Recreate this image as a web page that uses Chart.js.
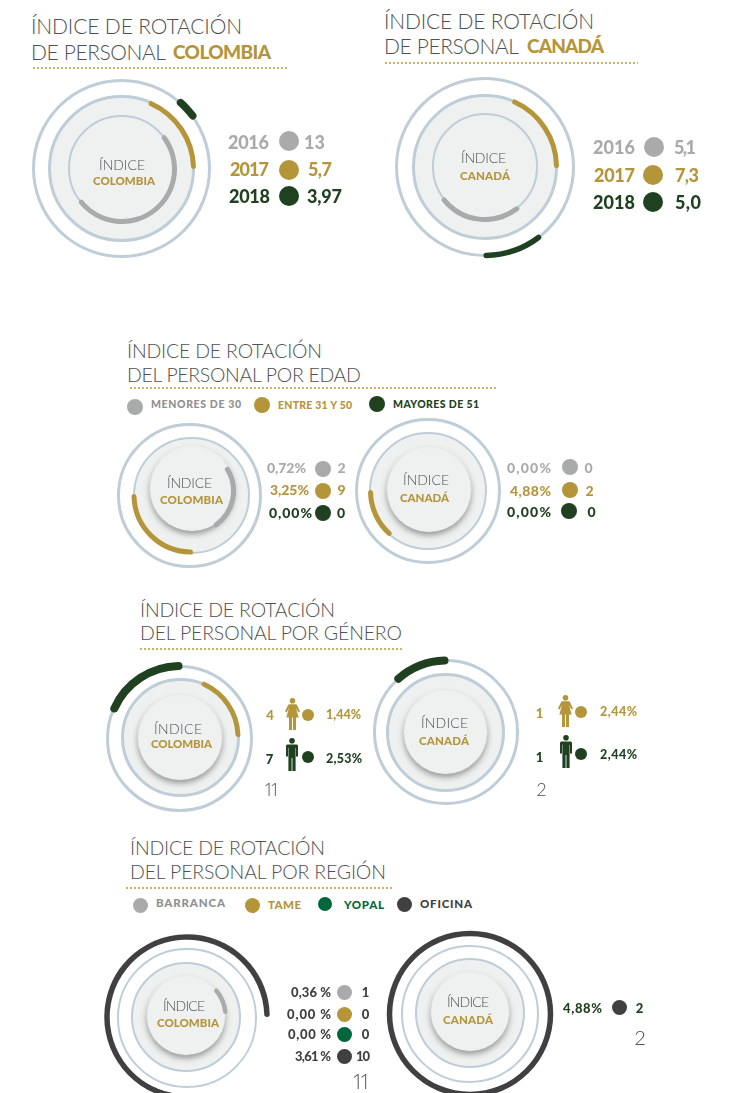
<!DOCTYPE html>
<html lang="es">
<head>
<meta charset="utf-8">
<title>Índice de rotación de personal</title>
<script src="https://cdn.jsdelivr.net/npm/chart.js@4"></script>
<style>
  html,body{margin:0;padding:0;background:#fff;}
  #page{position:relative;width:741px;height:1093px;overflow:hidden;background:#fff;font-family:Lato,"Noto Sans",sans-serif;filter:blur(.35px);}
  #page>*{position:absolute;}
  .t{white-space:pre;line-height:1;transform:translateY(-50%);}
  .dots{height:2px;background:repeating-linear-gradient(90deg,#cfb264 0 2px,transparent 2px 4px);}
  .dot,.ring,.disc{border-radius:50%;box-sizing:border-box;}
  canvas{pointer-events:none;}
</style>
</head>
<body>
<div id="page"></div>
<script>
/* ---------- data ---------- */
const indiceTitle = 'ÍNDICE DE ROTACIÓN';
const yearLabels = ['2016','2017','2018'];
const colombiaByYear = ['13','5,7','3,97'];
const canadaByYear = ['5,1','7,3','5,0'];
const colombiaYearArc = [183,68,16.5];
const canadaYearArc = [94,68.5,40];

const ageLabels = ['MENORES DE 30','ENTRE 31 Y 50','MAYORES DE 51'];
const colombiaAgePct = ['0,72%','3,25%','0,00%'];
const colombiaAgeCount = ['2','9','0'];
const canadaAgePct = ['0,00%','4,88%','0,00%'];
const canadaAgeCount = ['0','2','0'];
const colombiaAgeArc = [93,93];
const canadaAgeArc = [51];

const colombiaGenderCount = ['4','7'];
const colombiaGenderPct = ['1,44%','2,53%'];
const canadaGenderCount = ['1','1'];
const canadaGenderPct = ['2,44%','2,44%'];
const colombiaGenderTotal = '11';
const canadaGenderTotal = '2';
const colombiaGenderArc = [68,71];
const canadaGenderArc = [47];

const regionLabels = ['BARRANCA','TAME','YOPAL','OFICINA'];
const colombiaRegionPct = ['0,36 %','0,00 %','0,00 %','3,61 %'];
const colombiaRegionCount = ['1','0','0','10'];
const colombiaRegionTotal = '11';
const canadaRegionPct = ['4,88%'];
const canadaRegionCount = ['2'];
const canadaRegionTotal = '2';
const colombiaRegionArc = [40,260];
const canadaRegionArc = [360];

/* ---------- styling ---------- */
const GRAY='#a9aaac', GOLD='#b49539', GREEN='#1f4120', YOPAL='#00663c', DARK='#404042', TITLE='#4f5052', BLUE='#bfcdd8', FILL='#eff1f1';
const page=document.getElementById('page');
function el(cls,css){const d=document.createElement('div');d.className=cls;Object.assign(d.style,css);page.appendChild(d);return d;}

/* text fitted between x1 and x2, centred vertically on y */
const meas=document.createElement('canvas').getContext('2d');
function text(str,x1,x2,y,size,color,weight,family){
  const fam=family||'Lato';
  const d=el('t',{left:x1+'px',top:y+'px',fontSize:size+'px',color:color,fontWeight:weight||700,fontFamily:fam});
  d.textContent=str;
  meas.font=(weight||700)+' '+size+'px "'+fam+'"';
  const w=meas.measureText(str).width;
  if(str.length>1) d.style.letterSpacing=((x2-x1-w)/(str.length-1)).toFixed(3)+'px';
  else d.style.left=((x1+x2)/2-w/2)+'px';
  return d;
}
function dot(cx,cy,r,color){el('dot',{left:(cx-r)+'px',top:(cy-r)+'px',width:2*r+'px',height:2*r+'px',background:color});}
function dotted(x1,x2,y){el('dots',{left:x1+'px',top:y+'px',width:(x2-x1)+'px'});}
function title(l1,x1,x2,y1,l2,x3,x4,y2,size,strong,x5,x6){
  text(l1,x1,x2,y1,size,TITLE,300);
  text(l2,x3,x4,y2,size,TITLE,300);
  if(strong) text(strong,x5,x6,y2,19,GOLD,900);
}
function ring(cx,cy,r,w,fill){
  const o=r+w/2;
  el('ring',{left:(cx-o)+'px',top:(cy-o)+'px',width:2*o+'px',height:2*o+'px',border:w+'px solid '+BLUE,background:fill||'transparent'});
}
function disc(cx,cy,r,shadow){
  el('disc',{left:(cx-r)+'px',top:(cy-r)+'px',width:2*r+'px',height:2*r+'px',background:FILL,
    boxShadow:shadow?'0 3px 6px rgba(60,60,60,.55), 0 0 0 1px #fff':'none'});
}
/* one library-drawn arc: sweep degrees starting at `start` degrees clockwise from the top */
function arc(label,cx,cy,r,w,start,sweep,color){
  const o=Math.ceil(r+w/2);
  const scale=(r+w/2)/o;
  const c=document.createElement('canvas');
  c.width=2*o;c.height=2*o;
  Object.assign(c.style,{left:(cx-o)+'px',top:(cy-o)+'px',width:2*o+'px',height:2*o+'px'});
  page.appendChild(c);
  const data=sweep>=360?[360]:[sweep,360-sweep];
  new Chart(c,{type:'doughnut',
    data:{labels:sweep>=360?[label]:[label,''],datasets:[{data:data,backgroundColor:[color,'rgba(0,0,0,0)'],borderWidth:0,borderRadius:sweep>=360?0:w,hoverOffset:0}]},
    options:{responsive:false,animation:false,devicePixelRatio:1,rotation:start,radius:(scale*100)+'%',cutout:((r-w/2)/(r+w/2)*100)+'%',
      layout:{padding:0},events:[],plugins:{legend:{display:false},tooltip:{enabled:false}}}});
}
function center(l1,a,b,y1,l2,c2,d2,y2){
  text(l1,a,b,y1,14,TITLE,300);
  text(l2,c2,d2,y2,11.5,GOLD,900);
}
function woman(x,y,color){
  const s=document.createElementNS('http://www.w3.org/2000/svg','svg');
  s.setAttribute('viewBox','0 0 15 32');s.setAttribute('width','15');s.setAttribute('height','32');
  s.style.cssText='left:'+x+'px;top:'+y+'px';
  s.innerHTML='<g fill="'+color+'"><circle cx="7.5" cy="2.8" r="2.8"/><path d="M4.2 6.2h6.6l1 .6L15 13.5l-1.6 1-2.4-4.4 2.7 9.4H1.3L4 10.1 1.6 14.5 0 13.5 3.2 6.8z"/><rect x="4" y="19" width="3" height="13"/><rect x="8" y="19" width="3" height="13"/></g>';
  page.appendChild(s);
}
function man(x,y,color){
  const s=document.createElementNS('http://www.w3.org/2000/svg','svg');
  s.setAttribute('viewBox','0 0 12 33');s.setAttribute('width','12');s.setAttribute('height','33');
  s.style.cssText='left:'+x+'px;top:'+y+'px';
  s.innerHTML='<g fill="'+color+'"><circle cx="6" cy="2.8" r="2.8"/><path d="M1.2 6.4h9.6l1.2 1.2v11h-2V9.8h-.4V33H6.4V20h-.8v13H2.4V9.8H2v8.8H0v-11z"/></g>';
  page.appendChild(s);
}

/* ---------- section 1: years ---------- */
title(indiceTitle,31,242,25,'DE PERSONAL',31,166,50.5,21,'COLOMBIA',173,271);
dotted(33,287,67);
ring(121.5,168.5,88,3);ring(121.5,168.5,72,3,FILL);ring(121.5,168.5,52,2.5,FILL);
arc(yearLabels[0],121.5,168.5,52.5,5,50.5,colombiaYearArc[0],GRAY);
arc(yearLabels[1],121.5,168.5,71.5,5,22,colombiaYearArc[1],GOLD);
arc(yearLabels[2],121.5,168.5,88.5,7.5,39,colombiaYearArc[2],GREEN);
center('ÍNDICE',99,145,165,'COLOMBIA',93,155,181);
const y1cols=[GRAY,GOLD,GREEN];
[[228,269,304,325,142,141],[230,269,308,332,169,169.5],[229,270,307,342,196,196]].forEach((p,i)=>{
  text(yearLabels[i],p[0],p[1],p[4],18,y1cols[i],900);
  dot(289,p[5],10,y1cols[i]);
  text(colombiaByYear[i],p[2],p[3],p[4],18,y1cols[i],900);
});

title(indiceTitle,384,594,19.5,'DE PERSONAL',384,519,45,21,'CANADÁ',527,604);
dotted(385,638,62);
ring(485,166.5,88.5,3);ring(485,166.5,71.5,3,FILL);ring(485,166.5,52,2.5,FILL);
arc(yearLabels[0],485,166.5,52.5,5,140,canadaYearArc[0],GRAY);
arc(yearLabels[1],485,166.5,71.5,5,22.5,canadaYearArc[1],GOLD);
arc(yearLabels[2],485,166.5,88.5,5.5,141,canadaYearArc[2],GREEN);
center('ÍNDICE',461,506,158,'CANADÁ',460,510,176);
[[593,635,674,696,147,147,654],[594,635,675,699,175,175,653],[593,635,675,701,202,202,653]].forEach((p,i)=>{
  text(yearLabels[i],p[0],p[1],p[4],18,y1cols[i],900);
  dot(p[6],p[5],10,y1cols[i]);
  text(canadaByYear[i],p[2],p[3],p[4],18,y1cols[i],900);
});

/* ---------- section 2: age ---------- */
title(indiceTitle,127,322,351,'DEL PERSONAL POR EDAD',127,362,374.5,19.5);
dotted(130,497,387);
dot(135,406.5,8,GRAY);text(ageLabels[0],151,241,404,10.5,'#8f9092',900);
dot(262,405,8,GOLD);text(ageLabels[1],278,353,405,10.5,GOLD,900);
dot(377,404,8,GREEN);text(ageLabels[2],393,479,404,10.5,GREEN,900);

ring(189.5,495,71,3);ring(191,495,57.5,2,FILL);disc(192,489,42,true);
arc(ageLabels[1],191,495,57,5,178,colombiaAgeArc[1],GOLD);
arc(ageLabels[0],192,491,41.5,5,55,colombiaAgeArc[0],GRAY);
center('ÍNDICE',167,212,483,'COLOMBIA',160,223,500);
[[267,306,338,345,468,469],[270,309,338,345,490,491],[269,312,337,345,513,513]].forEach((p,i)=>{
  text(colombiaAgePct[i],p[0],p[1],p[4],14,y1cols[i],900);
  dot(323,p[5],8,y1cols[i]);
  text(colombiaAgeCount[i],p[2],p[3],p[4],14,y1cols[i],900);
});

ring(428,491,71.5,3);ring(428,490.5,58,2,FILL);disc(429,490,42,true);
arc(ageLabels[1],428,490.5,57.5,5,220,canadaAgeArc[0],GOLD);
center('ÍNDICE',403,449,480,'CANADÁ',400,449,498);
[[507,551,585,592,468,467,570],[510,551,586,593,491,490,570],[507,551,587,596,512,511,569]].forEach((p,i)=>{
  text(canadaAgePct[i],p[0],p[1],p[4],14,y1cols[i],900);
  dot(p[6],p[5],8,y1cols[i]);
  text(canadaAgeCount[i],p[2],p[3],p[4],14,y1cols[i],900);
});

/* ---------- section 3: gender ---------- */
title(indiceTitle,140,335,610,'DEL PERSONAL POR GÉNERO',140,403,633,19.5);
dotted(140,402,648);
ring(179.5,738,72,3);ring(180,737,58,3,FILL);disc(180,737.5,42,true);
arc('Mujeres',180,737,58,5,22,colombiaGenderArc[0],GOLD);
arc('Hombres',179.5,738,72,8,291,colombiaGenderArc[1],GREEN);
center('ÍNDICE',154,202,729,'COLOMBIA',151,212,744);
text(colombiaGenderCount[0],266,274,715,13,GOLD,900);
woman(285,698,GOLD);dot(308,715,6,GOLD);text(colombiaGenderPct[0],326,361,715,12.5,GOLD,900);
text(colombiaGenderCount[1],266,273,759,13,GREEN,900);
man(286,738,GREEN);dot(308,757,6,GREEN);text(colombiaGenderPct[1],326,362,759,12.5,GREEN,900);
text(colombiaGenderTotal,263.5,280,789,18,TITLE,300,'Open Sans');

ring(446,732,71.5,3);ring(445,732,58,3,FILL);disc(445.5,732,41.5,true);
arc('Hombres',446,732,71.5,8,315,canadaGenderArc[0],GREEN);
center('ÍNDICE',421,468,723,'CANADÁ',419,469,741);
text(canadaGenderCount[0],537,542,713,13,GOLD,900);
woman(558,695,GOLD);dot(581,712,6,GOLD);text(canadaGenderPct[0],600,637,712,12.5,GOLD,900);
text(canadaGenderCount[1],537,542,757,13,GREEN,900);
man(560,735,GREEN);dot(581,754,6,GREEN);text(canadaGenderPct[1],600,637,755,12.5,GREEN,900);
text(canadaGenderTotal,537,546,789,18,TITLE,300);

/* ---------- section 4: region ---------- */
title(indiceTitle,130,325,848,'DEL PERSONAL POR REGIÓN',130,387,871.5,19.5);
dotted(126,393,887);
const regCols=[GRAY,GOLD,YOPAL,DARK];
dot(140.5,905.5,7.5,GRAY);text(regionLabels[0],156,225,903,11.5,'#8f9092',900);
dot(252,905,7.5,GOLD);text(regionLabels[1],268,301,905,11.5,GOLD,900);
dot(325,904,7,YOPAL);text(regionLabels[2],344,384,905,11.5,YOPAL,900);
dot(404,904.5,7.5,DARK);text(regionLabels[3],420,472,904,11.5,DARK,900);

ring(187,1018,68.5,2.5);ring(186,1017,54,2,FILL);disc(186,1015.5,39,true);
arc(regionLabels[0],186,1016,39.5,4.5,47,colombiaRegionArc[0],GRAY);
arc(regionLabels[3],187,1017,80,5.5,190,colombiaRegionArc[1],DARK);
center('ÍNDICE',163,205,1006,'COLOMBIA',157,219,1023);
[[291,992],[287,1014],[288,1034],[295,1056]].forEach((p,i)=>{
  text(colombiaRegionPct[i],p[0],331,p[1],13,DARK,900);
  dot(344,p[1],7.5,regCols[i]);
});
[[363,368,992],[362,369,1014],[362,369,1034],[356,370,1056]].forEach((p,i)=>{
  text(colombiaRegionCount[i],p[0],p[1],p[2],13,DARK,900);
});
text(colombiaRegionTotal,352,371,1082,20,TITLE,300,'Open Sans');

ring(470,1014,68,2.5);ring(470,1013,54,2,FILL);disc(470,1012,39,true);
arc(regionLabels[3],470,1014,80.5,5.5,0,canadaRegionArc[0],DARK);
center('ÍNDICE',447,489,1002,'CANADÁ',443,493,1020);
text(canadaRegionPct[0],563,602,1008,13,GREEN,900);
dot(619.5,1007,7.5,DARK);
text(canadaRegionCount[0],636,643,1008,13,GREEN,900);
text(canadaRegionTotal,635,645,1037,20,TITLE,300);
</script>
</body>
</html>
